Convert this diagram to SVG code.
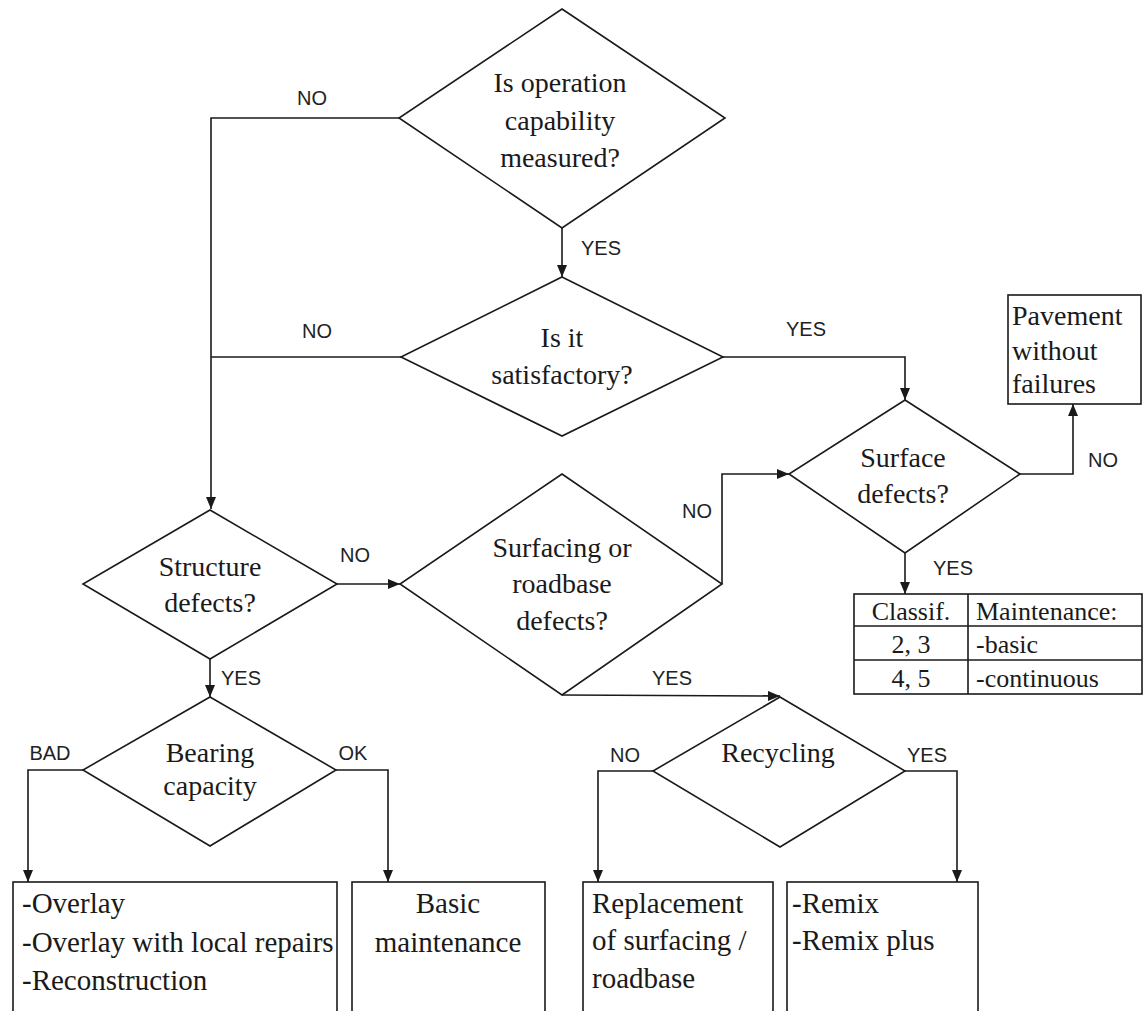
<svg xmlns="http://www.w3.org/2000/svg" width="1143" height="1011" viewBox="0 0 1143 1011">
<defs>
<style>
.shape{fill:#fff;stroke:#1a1a1a;stroke-width:1.6}
.conn{fill:none;stroke:#1a1a1a;stroke-width:1.6}
.t{font-family:"Liberation Serif","Times New Roman",serif;font-size:28px;fill:#1a1a1a}
.tb{font-family:"Liberation Serif","Times New Roman",serif;font-size:29px;fill:#1a1a1a}
.tt{font-family:"Liberation Serif","Times New Roman",serif;font-size:26px;fill:#1a1a1a}
.c{text-anchor:middle}
.lbl{font-family:"Liberation Sans",Arial,sans-serif;font-size:20px;fill:#222;text-anchor:middle}
</style>
<marker id="arr" markerUnits="userSpaceOnUse" markerWidth="12" markerHeight="10" refX="12" refY="5" orient="auto">
<path d="M0,0 L12,5 L0,10 z" fill="#1a1a1a"/>
</marker>
</defs>
<rect width="1143" height="1011" fill="#fff"/>

<g id="connectors">
<polyline class="conn" points="399,118 211,118 211,509" marker-end="url(#arr)"/>
<line class="conn" x1="562" y1="228" x2="562" y2="277" marker-end="url(#arr)"/>
<line class="conn" x1="401" y1="357" x2="211" y2="357"/>
<polyline class="conn" points="723,357 905,357 905,400" marker-end="url(#arr)"/>
<polyline class="conn" points="1020,474 1073,474 1073,404" marker-end="url(#arr)"/>
<line class="conn" x1="905" y1="553" x2="905" y2="594" marker-end="url(#arr)"/>
<line class="conn" x1="337" y1="584" x2="400" y2="584" marker-end="url(#arr)"/>
<polyline class="conn" points="722,584 722,474 789,474" marker-end="url(#arr)"/>
<line class="conn" x1="562" y1="695" x2="780" y2="696" marker-end="url(#arr)"/>
<line class="conn" x1="210" y1="659" x2="210" y2="697" marker-end="url(#arr)"/>
<polyline class="conn" points="83,770 28,770 28,882" marker-end="url(#arr)"/>
<polyline class="conn" points="336,770 388,770 388,882" marker-end="url(#arr)"/>
<polyline class="conn" points="653,771 598,771 598,882" marker-end="url(#arr)"/>
<polyline class="conn" points="905,771 957,771 957,882" marker-end="url(#arr)"/>
<text class="lbl" x="312" y="105">NO</text>
<text class="lbl" x="601" y="255">YES</text>
<text class="lbl" x="317" y="338">NO</text>
<text class="lbl" x="806" y="336">YES</text>
<text class="lbl" x="1103" y="467">NO</text>
<text class="lbl" x="953" y="575">YES</text>
<text class="lbl" x="355" y="562">NO</text>
<text class="lbl" x="697" y="518">NO</text>
<text class="lbl" x="672" y="685">YES</text>
<text class="lbl" x="241" y="685">YES</text>
<text class="lbl" x="50" y="760">BAD</text>
<text class="lbl" x="353" y="760">OK</text>
<text class="lbl" x="625" y="762">NO</text>
<text class="lbl" x="927" y="762">YES</text>
</g>

<g id="n-operation">
<polygon class="shape" points="562,9 725,118 562,228 399,118"/>
<text class="t c" x="560" y="92">Is operation</text>
<text class="t c" x="560" y="130">capability</text>
<text class="t c" x="560" y="167">measured?</text>
</g>

<g id="n-satisfactory">
<polygon class="shape" points="562,277 723,357 562,436 401,357"/>
<text class="t c" x="562" y="347">Is it</text>
<text class="t c" x="562" y="384">satisfactory?</text>
</g>

<g id="n-surface">
<polygon class="shape" points="905,400 1020,474 905,553 789,474"/>
<text class="t c" x="903" y="467">Surface</text>
<text class="t c" x="903" y="503">defects?</text>
</g>

<g id="n-pavement">
<rect class="shape" x="1008" y="295" width="133" height="109"/>
<text class="t" x="1012" y="325">Pavement</text>
<text class="t" x="1012" y="360">without</text>
<text class="t" x="1012" y="393">failures</text>
</g>

<g id="n-table">
<rect class="shape" x="854" y="594" width="288" height="100"/>
<line class="conn" x1="968" y1="594" x2="968" y2="694"/>
<line class="conn" x1="854" y1="626" x2="1142" y2="626"/>
<line class="conn" x1="854" y1="660" x2="1142" y2="660"/>
<text class="tt c" x="911" y="620">Classif.</text>
<text class="tt" x="976" y="620">Maintenance:</text>
<text class="tt c" x="911" y="653">2, 3</text>
<text class="tt" x="976" y="653">-basic</text>
<text class="tt c" x="911" y="687">4, 5</text>
<text class="tt" x="976" y="687">-continuous</text>
</g>

<g id="n-structure">
<polygon class="shape" points="210,510 337,584 210,659 83,584"/>
<text class="t c" x="210" y="576">Structure</text>
<text class="t c" x="210" y="612">defects?</text>
</g>

<g id="n-surfacing">
<polygon class="shape" points="562,474 722,584 562,695 400,584"/>
<text class="t c" x="562" y="557">Surfacing or</text>
<text class="t c" x="562" y="593">roadbase</text>
<text class="t c" x="562" y="630">defects?</text>
</g>

<g id="n-bearing">
<polygon class="shape" points="210,697 336,770 210,846 83,770"/>
<text class="t c" x="210" y="762">Bearing</text>
<text class="t c" x="210" y="795">capacity</text>
</g>

<g id="n-recycling">
<polygon class="shape" points="780,697 905,771 780,847 653,771"/>
<text class="t c" x="778" y="762">Recycling</text>
</g>

<g id="n-overlay">
<rect class="shape" x="13" y="882" width="324" height="150"/>
<text class="tb" x="22" y="913">-Overlay</text>
<text class="tb" x="22" y="952">-Overlay with local repairs</text>
<text class="tb" x="22" y="990">-Reconstruction</text>
</g>

<g id="n-basic">
<rect class="shape" x="352" y="882" width="193" height="150"/>
<text class="tb c" x="448" y="913">Basic</text>
<text class="tb c" x="448" y="952">maintenance</text>
</g>

<g id="n-replacement">
<rect class="shape" x="583" y="882" width="190" height="150"/>
<text class="tb" x="592" y="913">Replacement</text>
<text class="tb" x="592" y="950">of surfacing /</text>
<text class="tb" x="592" y="988">roadbase</text>
</g>

<g id="n-remix">
<rect class="shape" x="787" y="882" width="191" height="150"/>
<text class="tb" x="792" y="913">-Remix</text>
<text class="tb" x="792" y="950">-Remix plus</text>
</g>
</svg>
